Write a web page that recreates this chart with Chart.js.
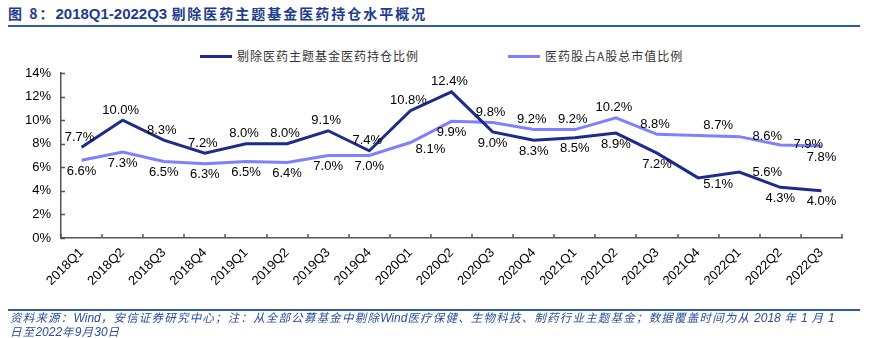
<!DOCTYPE html>
<html>
<head>
<meta charset="utf-8">
<script src="https://cdn.jsdelivr.net/npm/chart.js@4.4.0/dist/chart.umd.min.js"></script>
<style>
body { margin: 0; width: 884px; height: 338px; overflow: hidden; background: #fff; position: relative; font-family: "Liberation Sans", Arial, sans-serif; }
#title { position: absolute; left: 8px; top: 3px; color: #1d3c8c; font-weight: bold; font-size: 15px; white-space: nowrap; }
#title .cn { font-family: "Noto Sans CJK SC"; font-size: 14px; letter-spacing: 2px; }
.rule { position: absolute; left: 8px; width: 852px; height: 2px; background: #2f5aa8; }
.legend { position: absolute; top: 48px; font-family: "Noto Sans CJK SC"; font-size: 12px; letter-spacing: 1px; color: #333; white-space: nowrap; line-height: 16px; }
.legend i { display: inline-block; width: 32px; height: 3px; vertical-align: middle; margin-right: 5px; margin-top: -2px; }
#note { position: absolute; left: 10px; top: 311px; font-family: "Noto Sans CJK SC"; font-style: italic; font-size: 11.5px; letter-spacing: 1.2px; color: #2a4e9c; white-space: nowrap; line-height: 13px; }
#note .en { font-family: "Liberation Sans", Arial, sans-serif; letter-spacing: 0; font-size: 12px; }
#wrap { position: absolute; left: 0; top: 0; width: 884px; height: 338px; }
</style>
</head>
<body>
<div id="title"><span class="cn">图 8：</span>2018Q1-2022Q3 <span class="cn">剔除医药主题基金医药持仓水平概况</span></div>
<div class="rule" style="top:25px"></div>
<div class="legend" style="left:200px"><i style="background:#1c2b8c"></i>剔除医药主题基金医药持仓比例</div>
<div class="legend" style="left:508px"><i style="background:#8080ff;width:32px"></i>医药股占A股总市值比例</div>
<div id="wrap"><canvas id="chart" width="884" height="338"></canvas></div>
<div class="rule" style="top:309px"></div>
<div id="note">资料来源：<span class="en">Wind</span>，安信证券研究中心；注：从全部公募基金中剔除<span class="en">Wind</span>医疗保健、生物科技、制药行业主题基金；数据覆盖时间为从 <span class="en">2018</span> 年 <span class="en">1</span> 月 <span class="en">1</span><br>日至<span class="en">2022</span>年<span class="en">9</span>月<span class="en">30</span>日</div>

<script>
// Data

const quarters = ['2018Q1', '2018Q2', '2018Q3', '2018Q4', '2019Q1', '2019Q2', '2019Q3', '2019Q4',
    '2020Q1', '2020Q2', '2020Q3', '2020Q4', '2021Q1', '2021Q2', '2021Q3', '2021Q4',
    '2022Q1', '2022Q2', '2022Q3'];

const fundHolding = [7.7, 10.0, 8.3, 7.2, 8.0, 8.0, 9.1, 7.4, 10.8, 12.4, 9.0, 8.3, 8.5, 8.9, 7.2, 5.1, 5.6, 4.3, 4.0];
const marketShare = [6.6, 7.3, 6.5, 6.3, 6.5, 6.4, 7.0, 7.0, 8.1, 9.9, 9.8, 9.2, 9.2, 10.2, 8.8, 8.7, 8.6, 7.9, 7.8];

const yTickValues = [0, 2, 4, 6, 8, 10, 12, 14];

// where each value label sits relative to its point: a=above, b=below, r=right
const fundLabelSide = ['a','a','a','a','a','a','a','a','a','a','b','b','b','b','b','br','r','b','b'];
const shareLabelSide = ['b','b','b','b','b','b','b','b','br','b','a','a','a','a','a','ar','r','r','b'];

const sideOffset = {
    a: [-2, -10], b: [0, 11], r: [28, 0], br: [20, 7], ar: [20, -10]
};

// Value labels + inside tick marks

const valueLabels = {
    id: 'valueLabels',
    afterDatasetsDraw(chart) {
        const ctx = chart.ctx;
        ctx.save();
        ctx.font = '13px "Liberation Sans", Arial, sans-serif';
        ctx.fillStyle = '#000';
        ctx.textAlign = 'center';
        ctx.textBaseline = 'middle';
        chart.data.datasets.forEach((ds, di) => {
            const sides = di === 0 ? fundLabelSide : shareLabelSide;
            chart.getDatasetMeta(di).data.forEach((pt, i) => {
                const off = sideOffset[sides[i]];
                ctx.fillText(ds.data[i].toFixed(1) + '%', pt.x + off[0], pt.y + off[1]);
            });
        });
        ctx.restore();
    },
    afterDraw(chart) {
        const ctx = chart.ctx;
        const x = chart.scales.x, y = chart.scales.y;
        ctx.save();
        ctx.strokeStyle = '#555';
        ctx.lineWidth = 1.5;
        ctx.beginPath();
        y.ticks.forEach((t, i) => {
            const py = Math.round(y.getPixelForTick(i)) + 0.5;
            ctx.moveTo(y.right, py);
            ctx.lineTo(y.right + 4, py);
        });
        for (let i = 0; i <= quarters.length; i++) {
            const px = Math.round(x.getPixelForValue(i - 0.5));
            ctx.moveTo(px, x.top);
            ctx.lineTo(px, x.top - 4);
        }
        ctx.stroke();
        ctx.restore();
    }
};

const chart = new Chart(document.getElementById('chart'), {
    type: 'line',
    data: {
        labels: quarters,
        datasets: [{
            label: '剔除医药主题基金医药持仓比例',
            data: fundHolding,
            borderColor: '#1c2b8c',
            borderWidth: 3,
            pointRadius: 0,
            tension: 0
        }, {
            label: '医药股占A股总市值比例',
            data: marketShare,
            borderColor: '#8080ff',
            borderWidth: 3,
            pointRadius: 0,
            tension: 0
        }]
    },
    options: {
        responsive: false,
        animation: false,
        layout: {
            padding: { top: 73, right: 42, left: 0, bottom: 0 }
        },
        plugins: {
            legend: { display: false },
            tooltip: { enabled: false }
        },
        scales: {
            x: {
                offset: true,
                grid: { display: false, drawTicks: false },
                border: { color: '#555', width: 1.5 },
                ticks: {
                    minRotation: 45,
                    maxRotation: 45,
                    padding: 7,
                    color: '#000',
                    font: { family: '"Liberation Sans", Arial, sans-serif', size: 13 }
                },
                afterFit(scale) { scale.height = 100; }
            },
            y: {
                min: 0,
                max: 14,
                grid: { display: false, drawTicks: false },
                border: { color: '#555', width: 1.5 },
                afterBuildTicks(scale) { scale.ticks = yTickValues.map(v => ({ value: v })); },
                ticks: {
                    padding: 10,
                    color: '#000',
                    font: { family: '"Liberation Sans", Arial, sans-serif', size: 13 },
                    callback: v => v + '%'
                },
                afterFit(scale) { scale.width = 61; }
            }
        }
    },
    plugins: [valueLabels]
});
</script>
</body>
</html>
